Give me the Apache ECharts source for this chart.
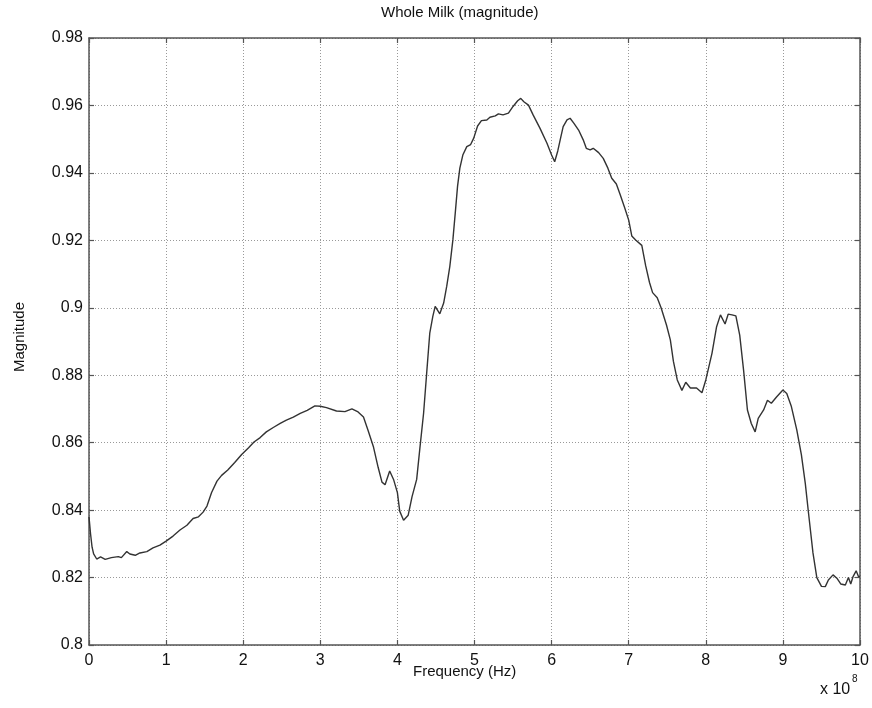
<!DOCTYPE html>
<html>
<head>
<meta charset="utf-8">
<script src="https://cdn.jsdelivr.net/npm/echarts@6/dist/echarts.min.js"></script>
<style>html,body{margin:0;padding:0;background:#fff;}#c{width:872px;height:708px;}</style>
</head>
<body>
<div id="c"></div>
<script>
const freq = [0.00,0.02,0.04,0.06,0.10,0.15,0.21,0.29,0.38,0.42,0.49,0.53,0.60,0.66,0.75,0.83,0.92,1.00,1.09,1.18,1.27,1.35,1.42,1.48,1.53,1.59,1.66,1.72,1.80,1.89,1.98,2.07,2.14,2.22,2.30,2.39,2.48,2.56,2.65,2.74,2.83,2.93,3.00,3.08,3.21,3.32,3.41,3.49,3.56,3.62,3.69,3.75,3.80,3.84,3.86,3.90,3.95,4.00,4.03,4.08,4.10,4.14,4.19,4.25,4.29,4.34,4.38,4.42,4.46,4.49,4.55,4.60,4.64,4.68,4.72,4.75,4.78,4.81,4.85,4.90,4.95,4.99,5.04,5.09,5.16,5.20,5.27,5.31,5.37,5.44,5.50,5.56,5.60,5.64,5.70,5.76,5.85,5.94,6.00,6.04,6.08,6.12,6.15,6.20,6.24,6.29,6.35,6.41,6.45,6.50,6.54,6.61,6.67,6.73,6.78,6.84,6.89,6.95,7.00,7.04,7.09,7.17,7.22,7.27,7.31,7.37,7.42,7.49,7.54,7.58,7.63,7.69,7.74,7.80,7.88,7.95,8.00,8.08,8.14,8.19,8.25,8.29,8.34,8.39,8.44,8.49,8.54,8.59,8.64,8.68,8.75,8.80,8.85,8.92,9.00,9.05,9.11,9.18,9.24,9.29,9.33,9.39,9.44,9.50,9.55,9.59,9.65,9.70,9.75,9.81,9.85,9.88,9.91,9.95,9.98,10.00];
const magnitude = [0.838,0.833,0.829,0.827,0.8255,0.8261,0.8254,0.8259,0.8262,0.8259,0.8277,0.8270,0.8266,0.8273,0.8277,0.8288,0.8296,0.8308,0.8323,0.8341,0.8355,0.8375,0.8380,0.8394,0.8412,0.8452,0.8486,0.8503,0.8519,0.8541,0.8565,0.8585,0.8602,0.8615,0.8632,0.8645,0.8657,0.8667,0.8676,0.8687,0.8696,0.8709,0.8708,0.8704,0.8694,0.8692,0.8700,0.8691,0.8676,0.8636,0.8587,0.8527,0.8483,0.8475,0.8480,0.8516,0.8491,0.8452,0.8397,0.8370,0.8367,0.8385,0.8440,0.8491,0.8580,0.8688,0.8807,0.8925,0.8975,0.9004,0.8982,0.9014,0.9064,0.9123,0.9202,0.9280,0.9360,0.9414,0.9454,0.9478,0.9484,0.9503,0.9539,0.9555,0.9557,0.9565,0.9569,0.9575,0.9572,0.9577,0.9597,0.9614,0.9621,0.9611,0.9601,0.9572,0.9532,0.9488,0.9453,0.9433,0.9465,0.9507,0.9537,0.9557,0.9562,0.9547,0.9527,0.9498,0.9473,0.9468,0.9473,0.9460,0.9443,0.9414,0.9384,0.9367,0.9335,0.9295,0.9260,0.9213,0.9201,0.9185,0.9125,0.9075,0.9045,0.9030,0.9000,0.8949,0.8905,0.8841,0.8786,0.8755,0.8779,0.8762,0.8762,0.8748,0.8786,0.8865,0.8944,0.8979,0.8952,0.8981,0.8979,0.8976,0.8919,0.8815,0.8697,0.8657,0.8632,0.8672,0.8697,0.8726,0.8717,0.8736,0.8756,0.8746,0.8707,0.8638,0.8564,0.8480,0.8396,0.8273,0.8200,0.8174,0.8173,0.8193,0.8208,0.8198,0.8181,0.8178,0.8200,0.8181,0.8203,0.8220,0.8203,0.8203];
const titleText = 'Whole Milk (magnitude)';
const xLabel = 'Frequency (Hz)';
const yLabel = 'Magnitude';
const xScaleBase = 'x 10';
const xScaleExp = '8';

const FONT = '"Liberation Sans", Arial, sans-serif';
const AX = '#555';
const gridLine = {show: true, lineStyle: {color: '#999', type: [1, 2], width: 1}};
const chart = echarts.init(document.getElementById('c'));
const pts = freq.map((f, i) => [f, magnitude[i]]);
const fmtY = v => String(+v.toFixed(2));

chart.setOption({
  animation: false,
  backgroundColor: '#fff',
  grid: {left: 89, top: 38, right: 12, bottom: 63, containLabel: false},
  xAxis: [
    {type: 'value', min: 0, max: 10, interval: 1, position: 'bottom',
     axisLine: {show: true, onZero: false, lineStyle: {color: AX, width: 1.5}},
     axisTick: {show: true, inside: true, length: 5, lineStyle: {color: AX, width: 1.2}},
     axisLabel: {color: '#111', fontSize: 16, fontFamily: FONT, margin: 8},
     splitLine: gridLine},
    {type: 'value', min: 0, max: 10, interval: 1, position: 'top',
     axisLine: {show: true, onZero: false, lineStyle: {color: AX, width: 1.5}},
     axisTick: {show: true, inside: true, length: 5, lineStyle: {color: AX, width: 1.2}},
     axisLabel: {show: false}, splitLine: {show: false}}
  ],
  yAxis: [
    {type: 'value', min: 0.8, max: 0.98, interval: 0.02, position: 'left',
     axisLine: {show: true, onZero: false, lineStyle: {color: AX, width: 1.5}},
     axisTick: {show: true, inside: true, length: 5, lineStyle: {color: AX, width: 1.2}},
     axisLabel: {color: '#111', fontSize: 16, fontFamily: FONT, margin: 6, formatter: fmtY},
     splitLine: gridLine},
    {type: 'value', min: 0.8, max: 0.98, interval: 0.02, position: 'right',
     axisLine: {show: true, onZero: false, lineStyle: {color: AX, width: 1.5}},
     axisTick: {show: true, inside: true, length: 5, lineStyle: {color: AX, width: 1.2}},
     axisLabel: {show: false}, splitLine: {show: false}}
  ],
  series: [{
    type: 'line', xAxisIndex: 0, yAxisIndex: 0, data: pts,
    showSymbol: false, symbol: 'none', smooth: false,
    lineStyle: {color: '#333', width: 1.4}
  }],
  graphic: [
    {type: 'text', left: 381, top: 5, style: {text: titleText, fontSize: 15, fontFamily: FONT, fill: '#111'}},
    {type: 'text', left: 413, top: 664, style: {text: xLabel, fontSize: 15, fontFamily: FONT, fill: '#111'}},
    {type: 'text', x: 12, y: 337, rotation: Math.PI / 2, style: {text: yLabel, fontSize: 15, fontFamily: FONT, fill: '#111', textAlign: 'center', textVerticalAlign: 'top'}},
    {type: 'text', left: 820, top: 682, style: {text: xScaleBase, fontSize: 16, fontFamily: FONT, fill: '#111'}},
    {type: 'text', left: 852, top: 674, style: {text: xScaleExp, fontSize: 10, fontFamily: FONT, fill: '#111'}}
  ]
});
</script>
</body>
</html>
